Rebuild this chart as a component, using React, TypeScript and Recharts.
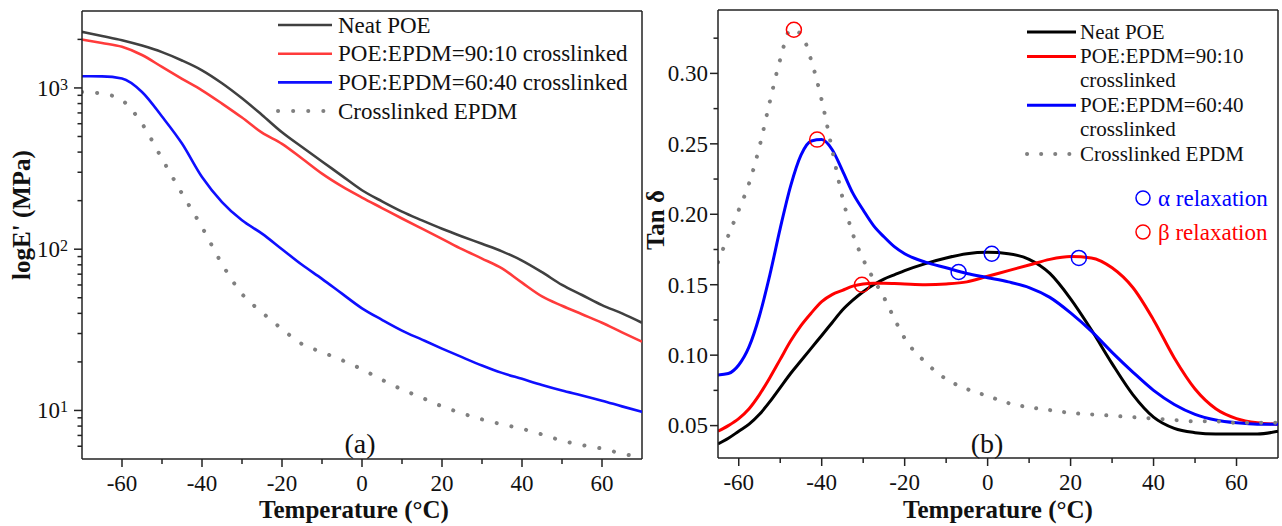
import React from 'react';
import { ComposedChart, Line, XAxis, YAxis, ReferenceLine, ReferenceDot } from 'recharts';

const FONT = "'Liberation Serif', 'Times New Roman', Times, serif";
const AXIS = '#222';

const seriesNames = ['Neat POE', 'POE:EPDM=90:10 crosslinked', 'POE:EPDM=60:40 crosslinked', 'Crosslinked EPDM'];

// ---------- Panel (a): storage modulus (MPa) ----------
const tempA = [-70, -65, -60, -55, -50, -45, -40, -35, -30, -25, -20, -15, -10, -5, 0, 5, 10, 15, 20, 25, 30, 35, 40, 45, 50, 55, 60, 65, 70];
const neatA = [2228, 2100, 1977, 1830, 1667, 1480, 1287, 1070, 863, 680, 531, 430, 350, 285, 232, 198, 171, 151, 134, 120, 108, 97, 85, 72, 60, 52, 45, 40, 35];
const b9010A = [1997, 1900, 1799, 1600, 1350, 1140, 967, 800, 655, 528, 450, 365, 294, 245, 209, 180, 155, 134, 116, 100, 87.5, 76, 62, 51, 44.6, 39.5, 35, 30.5, 26.7];
const b6040A = [1182, 1180, 1144, 944, 665, 452, 280, 196, 151, 125, 100, 80, 65.5, 53, 43, 36.5, 31.3, 27.5, 24.2, 21.4, 19, 17.1, 15.7, 14.4, 13.3, 12.4, 11.5, 10.6, 9.8];
const epdmA = [944, 923, 839, 601, 364, 221, 137, 81, 52.8, 40.6, 32, 25.8, 23, 20.5, 18, 15.5, 13.5, 12, 10.6, 9.6, 8.8, 8.2, 7.7, 7.1, 6.5, 6.1, 5.8, 5.4, 5.1];

const xMajor = [-60, -40, -20, 0, 20, 40, 60];
const xMinor = [-50, -30, -10, 10, 30, 50];
const yMajorA = [10, 100, 1000];
const yMinorA = [6, 7, 8, 9, 20, 30, 40, 50, 60, 70, 80, 90, 200, 300, 400, 500, 600, 700, 800, 900, 2000];

// ---------- Panel (b): tan delta ----------
const tempB = [-65, -62.5, -60, -57.5, -55, -52.5, -50, -47.5, -45, -42.5, -40, -37.5, -35, -32.5, -30, -27.5, -25, -22.5, -20, -15, -10, -5, 0, 5, 10, 15, 20, 25, 30, 35, 40, 45, 50, 55, 60, 65, 70];
const neatB = [0.037, 0.041, 0.046, 0.051, 0.058, 0.067, 0.077, 0.087, 0.096, 0.105, 0.114, 0.123, 0.132, 0.139, 0.145, 0.150, 0.154, 0.157, 0.160, 0.165, 0.169, 0.172, 0.173, 0.172, 0.168, 0.158, 0.140, 0.118, 0.094, 0.072, 0.056, 0.048, 0.045, 0.044, 0.044, 0.044, 0.046];
const b9010B = [0.046, 0.050, 0.055, 0.062, 0.072, 0.084, 0.097, 0.110, 0.121, 0.130, 0.138, 0.143, 0.146, 0.149, 0.1505, 0.151, 0.151, 0.1508, 0.1505, 0.150, 0.1505, 0.152, 0.156, 0.160, 0.164, 0.168, 0.170, 0.169, 0.162, 0.148, 0.125, 0.098, 0.076, 0.062, 0.055, 0.052, 0.051];
const b6040B = [0.086, 0.087, 0.093, 0.106, 0.128, 0.157, 0.190, 0.220, 0.242, 0.252, 0.253, 0.246, 0.231, 0.215, 0.203, 0.192, 0.184, 0.177, 0.172, 0.166, 0.162, 0.158, 0.155, 0.152, 0.148, 0.141, 0.130, 0.117, 0.102, 0.088, 0.075, 0.065, 0.058, 0.054, 0.052, 0.051, 0.051];
const epdmB = [0.166, 0.185, 0.203, 0.222, 0.248, 0.280, 0.310, 0.331, 0.328, 0.309, 0.281, 0.246, 0.212, 0.186, 0.168, 0.154, 0.141, 0.126, 0.112, 0.095, 0.083, 0.076, 0.071, 0.066, 0.063, 0.061, 0.059, 0.058, 0.057, 0.056, 0.055, 0.054, 0.053, 0.053, 0.052, 0.052, 0.052];

const betaPeaks = [{ x: -46.7, y: 0.331 }, { x: -41.1, y: 0.253 }, { x: -30.3, y: 0.150 }];
const alphaPeaks = [{ x: -7, y: 0.159 }, { x: 1, y: 0.172 }, { x: 22, y: 0.169 }];

const yMajorB = [0.05, 0.1, 0.15, 0.2, 0.25, 0.3];
const yMinorB = [0.075, 0.125, 0.175, 0.225, 0.275, 0.325];

const rowsA = tempA.map((t, i) => ({ t, neat: neatA[i], b90: b9010A[i], b60: b6040A[i], epdm: epdmA[i] }));
const rowsB = tempB.map((t, i) => ({ t, neat: neatB[i], b90: b9010B[i], b60: b6040B[i], epdm: epdmB[i] }));

const colorsA = ['#404040', '#ff3b3b', '#0f0fff', '#808080'];
const colorsB = ['#000000', '#ff0000', '#0000ff', '#808080'];
const keys = ['neat', 'b90', 'b60', 'epdm'];

const near = (arr: number[], v: number) => arr.some((m) => Math.abs(m - v) < 1e-9);

function XTick(props: any) {
  const { x, y, payload } = props;
  const v = payload.value;
  const major = near(xMajor, v);
  const len = major ? 8 : 5;
  return (
    <g>
      <line x1={x} x2={x} y1={y} y2={y + len} stroke={AXIS} strokeWidth={1.5} />
      {major && (
        <text x={x} y={y + 32} textAnchor="middle" fontSize={23} fontFamily={FONT} fill="#111">
          {String(v)}
        </text>
      )}
    </g>
  );
}

function LogYTick(props: any) {
  const { x, y, payload } = props;
  const v = payload.value;
  const major = near(yMajorA, v);
  const len = major ? 8 : 4.5;
  return (
    <g>
      <line x1={x} x2={x - len} y1={y} y2={y} stroke={AXIS} strokeWidth={1.5} />
      {major && (
        <text x={x - 14} y={y} dy="0.34em" textAnchor="end" fontSize={23} fontFamily={FONT} fill="#111">
          10
          <tspan fontSize={16} dy={-6}>{Math.round(Math.log10(v))}</tspan>
        </text>
      )}
    </g>
  );
}

function TanYTick(props: any) {
  const { x, y, payload } = props;
  const v = payload.value;
  const major = near(yMajorB, v);
  const len = major ? 8 : 4.5;
  return (
    <g>
      <line x1={x} x2={x - len} y1={y} y2={y} stroke={AXIS} strokeWidth={1.5} />
      {major && (
        <text x={x - 10} y={y} dy="0.34em" textAnchor="end" fontSize={23} fontFamily={FONT} fill="#111">
          {v.toFixed(2)}
        </text>
      )}
    </g>
  );
}

const dotted = { strokeDasharray: '0.1 14', strokeLinecap: 'round' as const };

export default function App() {
  const ticksX = [...xMajor, ...xMinor].sort((a, b) => a - b);
  const ticksYA = [...yMajorA, ...yMinorA].sort((a, b) => a - b);
  const ticksYB = [...yMajorB, ...yMinorB].sort((a, b) => a - b);

  const rightLegend = seriesNames.map((n) => (n.includes('=') ? [n.slice(0, n.lastIndexOf(' ')), n.slice(n.lastIndexOf(' ') + 1)] : [n]));
  let rowY = 32;
  const rightRows: { lines: string[]; y: number; i: number }[] = [];
  rightLegend.forEach((lines, i) => {
    rightRows.push({ lines, y: rowY, i });
    rowY += 24.4 * lines.length;
  });

  return (
    <div style={{ position: 'absolute', left: 0, top: 0, width: 1282, height: 526, background: '#fff', fontFamily: FONT }}>
      <div style={{ position: 'absolute', left: 0, top: 0 }}>
        <ComposedChart width={660} height={526} data={rowsA} margin={{ top: 11, right: 18, bottom: 37, left: 22 }}>
          <XAxis
            dataKey="t"
            type="number"
            domain={[-70, 70]}
            ticks={ticksX}
            interval={0}
            tickSize={0}
            tickMargin={0}
            tickLine={false}
            height={30}
            axisLine={{ stroke: AXIS, strokeWidth: 1.5 }}
            tick={(p: any) => <XTick {...p} />}
            allowDataOverflow
          />
          <YAxis
            scale="log"
            type="number"
            domain={[5, 3000]}
            ticks={ticksYA}
            interval={0}
            tickSize={0}
            tickMargin={0}
            tickLine={false}
            width={60}
            axisLine={{ stroke: AXIS, strokeWidth: 1.5 }}
            tick={(p: any) => <LogYTick {...p} />}
            allowDataOverflow
          />
          <ReferenceLine y={3000} stroke={AXIS} strokeWidth={1.5} ifOverflow="visible" />
          <ReferenceLine x={70} stroke={AXIS} strokeWidth={1.5} ifOverflow="visible" />
          {keys.map((k, i) => (
            <Line
              key={k}
              dataKey={k}
              name={seriesNames[i]}
              type="monotone"
              stroke={colorsA[i]}
              strokeWidth={i === 3 ? 4 : 2.6}
              dot={false}
              isAnimationActive={false}
              {...(i === 3 ? { strokeDasharray: '0.1 15', strokeLinecap: 'round' } : {})}
            />
          ))}
        </ComposedChart>
      </div>

      <div style={{ position: 'absolute', left: 660, top: 0 }}>
        <ComposedChart width={622} height={526} data={rowsB} margin={{ top: 10, right: 4, bottom: 38, left: 8 }}>
          <XAxis
            dataKey="t"
            type="number"
            domain={[-65, 70]}
            ticks={ticksX}
            interval={0}
            tickSize={0}
            tickMargin={0}
            tickLine={false}
            height={30}
            axisLine={{ stroke: AXIS, strokeWidth: 1.5 }}
            tick={(p: any) => <XTick {...p} />}
            allowDataOverflow
          />
          <YAxis
            type="number"
            domain={[0.027, 0.345]}
            ticks={ticksYB}
            interval={0}
            tickSize={0}
            tickMargin={0}
            tickLine={false}
            width={50}
            axisLine={{ stroke: AXIS, strokeWidth: 1.5 }}
            tick={(p: any) => <TanYTick {...p} />}
            allowDataOverflow
          />
          <ReferenceLine y={0.345} stroke={AXIS} strokeWidth={1.5} ifOverflow="visible" />
          <ReferenceLine x={70} stroke={AXIS} strokeWidth={1.5} ifOverflow="visible" />
          {keys.map((k, i) => (
            <Line
              key={k}
              dataKey={k}
              name={seriesNames[i]}
              type="monotone"
              stroke={colorsB[i]}
              strokeWidth={i === 3 ? 4 : 3}
              dot={false}
              isAnimationActive={false}
              {...(i === 3 ? dotted : {})}
            />
          ))}
          {betaPeaks.map((p, i) => (
            <ReferenceDot key={'b' + i} x={p.x} y={p.y} r={7.5} fill="none" stroke="#ff0000" strokeWidth={1.5} />
          ))}
          {alphaPeaks.map((p, i) => (
            <ReferenceDot key={'a' + i} x={p.x} y={p.y} r={7.5} fill="none" stroke="#0000ff" strokeWidth={1.5} />
          ))}
        </ComposedChart>
      </div>

      <svg width={1282} height={526} style={{ position: 'absolute', left: 0, top: 0, pointerEvents: 'none' }} fontFamily={FONT}>
        {/* axis titles */}
        <text x={21} y={215} transform="rotate(-90 21 215)" textAnchor="middle" dominantBaseline="central" fontSize={25} fontWeight="bold" fill="#111">
          logE' (MPa)
        </text>
        <text x={655} y={220} transform="rotate(-90 655 220)" textAnchor="middle" dominantBaseline="central" fontSize={25} fontWeight="bold" fill="#111">
          Tan δ
        </text>
        <text x={354} y={518} textAnchor="middle" fontSize={25} fontWeight="bold" fill="#111">Temperature (°C)</text>
        <text x={998} y={518} textAnchor="middle" fontSize={25} fontWeight="bold" fill="#111">Temperature (°C)</text>
        <text x={360} y={453} textAnchor="middle" fontSize={28} fill="#111">(a)</text>
        <text x={987} y={453} textAnchor="middle" fontSize={28} fill="#111">(b)</text>

        {/* legend (a) */}
        {seriesNames.map((n, i) => {
          const y = 25 + i * 28.7;
          return (
            <g key={'la' + i}>
              <line x1={278} x2={332} y1={y} y2={y} stroke={colorsA[i]} strokeWidth={i === 3 ? 4 : 2.6}
                strokeDasharray={i === 3 ? '0.1 15' : undefined} strokeLinecap={i === 3 ? 'round' : 'butt'} />
              <text x={338} y={y} dy="0.33em" fontSize={23} fill="#111">{n}</text>
            </g>
          );
        })}

        {/* legend (b) */}
        {rightRows.map((r) => (
          <g key={'lb' + r.i}>
            <line x1={1027} x2={1076} y1={r.y} y2={r.y} stroke={colorsB[r.i]} strokeWidth={r.i === 3 ? 4 : 3}
              strokeDasharray={r.i === 3 ? '0.1 14' : undefined} strokeLinecap={r.i === 3 ? 'round' : 'butt'} />
            {r.lines.map((l, j) => (
              <text key={j} x={1080} y={r.y + j * 24} dy="0.33em" fontSize={21} fill="#111">{l}</text>
            ))}
          </g>
        ))}

        {/* relaxation key */}
        <circle cx={1143} cy={198} r={7} fill="none" stroke="#0000ff" strokeWidth={1.5} />
        <text x={1158} y={198} dy="0.33em" fontSize={23} fill="#0000ff">α relaxation</text>
        <circle cx={1143} cy={232} r={7} fill="none" stroke="#ff0000" strokeWidth={1.5} />
        <text x={1158} y={232} dy="0.33em" fontSize={23} fill="#ff0000">β relaxation</text>
      </svg>
    </div>
  );
}
